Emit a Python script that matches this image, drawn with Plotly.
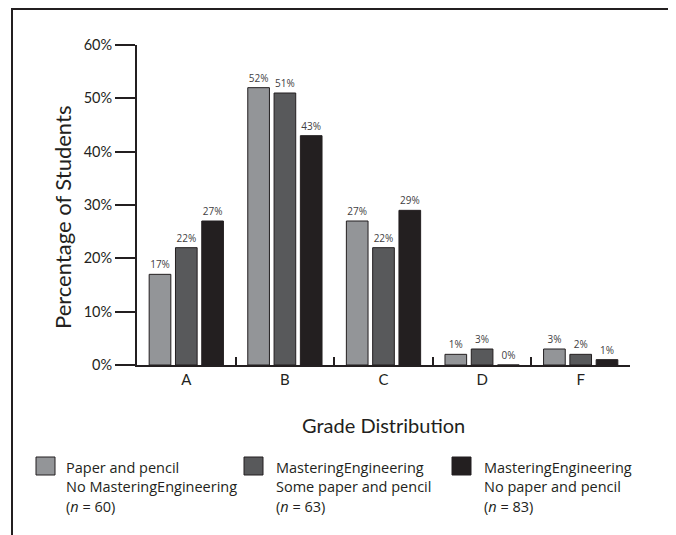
import plotly.graph_objects as go

# ---- data ----
grades = ["A", "B", "C", "D", "F"]
paper_pencil = [17, 52, 27, 2, 3]
some_paper = [22, 51, 22, 3, 2]
no_paper = [27, 43, 29, 0, 1]
paper_pencil_labels = ["17%", "52%", "27%", "1%", "3%"]
some_paper_labels = ["22%", "51%", "22%", "3%", "2%"]
no_paper_labels = ["27%", "43%", "29%", "0%", "1%"]
series_names = [
    ["Paper and pencil", "No MasteringEngineering", "(<i>n</i> = 60)"],
    ["MasteringEngineering", "Some paper and pencil", "(<i>n</i> = 63)"],
    ["MasteringEngineering", "No paper and pencil", "(<i>n</i> = 83)"],
]
y_ticks = [0, 10, 20, 30, 40, 50, 60]
y_tick_labels = ["0%", "10%", "20%", "30%", "40%", "50%", "60%"]

colors = ["#939598", "#58595b", "#231f20"]
ink = "#231f20"

W, H = 676, 535
OFF = 8  # page body margin offset
# plot area in page pixel coordinates
L, R, T, B = 137, 630, 45, 365


def px_x(px):
    return (px - L) / (R - L)


def px_y(py):
    return (B - py) / (B - T)


fig = go.Figure()
for vals, labs, col, nm in zip([paper_pencil, some_paper, no_paper],
                               [paper_pencil_labels, some_paper_labels, no_paper_labels],
                               colors, series_names):
    fig.add_trace(go.Bar(
        x=grades, y=vals, text=labs, textposition="outside",
        textfont=dict(family="Open Sans", size=10, color="#414042"),
        marker=dict(color=col, line=dict(color=ink, width=1)),
        name=" ".join(nm), showlegend=False, cliponaxis=False,
    ))

shapes = []
annotations = []
# outer frame
shapes.append(dict(type="rect", xref="paper", yref="paper",
                   x0=px_x(12), x1=px_x(673), y0=px_y(560), y1=px_y(OFF + 1),
                   line=dict(color=ink, width=2), fillcolor="rgba(0,0,0,0)", layer="below"))

# axis titles
annotations.append(dict(text="Percentage of Students", xref="paper", yref="paper",
                        x=px_x(62), y=px_y(218), textangle=-90, showarrow=False,
                        xanchor="center", yanchor="middle",
                        font=dict(family="Lato", size=22, color=ink)))
annotations.append(dict(text="Grade Distribution", xref="paper", yref="paper",
                        x=px_x(383), y=px_y(425), showarrow=False,
                        xanchor="center", yanchor="middle",
                        font=dict(family="Lato", size=20, color=ink)))

# legend
sq_x = [36, 244, 452]
txt_x = [64, 274, 482]
for i in range(3):
    shapes.append(dict(type="rect", xref="paper", yref="paper",
                       x0=px_x(sq_x[i]), x1=px_x(sq_x[i] + 19),
                       y0=px_y(475), y1=px_y(457),
                       fillcolor=colors[i], line=dict(color=ink, width=1)))
    for j, line in enumerate(series_names[i]):
        annotations.append(dict(text=line, xref="paper", yref="paper",
                                x=px_x(txt_x[i]), y=px_y(467 + 19.5 * j),
                                showarrow=False, xanchor="left", yanchor="middle",
                                font=dict(family="Open Sans", size=14.5, color=ink)))

fig.update_layout(
    width=W, height=H,
    margin=dict(l=L - OFF, r=W - (R - OFF), t=T - OFF, b=H - (B - OFF)),
    paper_bgcolor="white", plot_bgcolor="white",
    barmode="group", bargap=0.2, bargroupgap=0.176,
    shapes=shapes, annotations=annotations,
    xaxis=dict(showline=True, linecolor=ink, linewidth=2, ticks="inside",
               tickson="boundaries", ticklen=8, tickwidth=2, tickcolor=ink,
               showgrid=False, zeroline=False, automargin=False,
               tickfont=dict(family="Lato", size=15, color=ink)),
    yaxis=dict(range=[0, 60], showline=True, linecolor=ink, linewidth=2,
               ticks="outside", ticklen=20, tickwidth=2, tickcolor=ink,
               tickvals=y_ticks, ticktext=y_tick_labels,
               showgrid=False, zeroline=False, automargin=False,
               tickfont=dict(family="Lato", size=14.5, color=ink)),
)

fig.write_html("out.html")
